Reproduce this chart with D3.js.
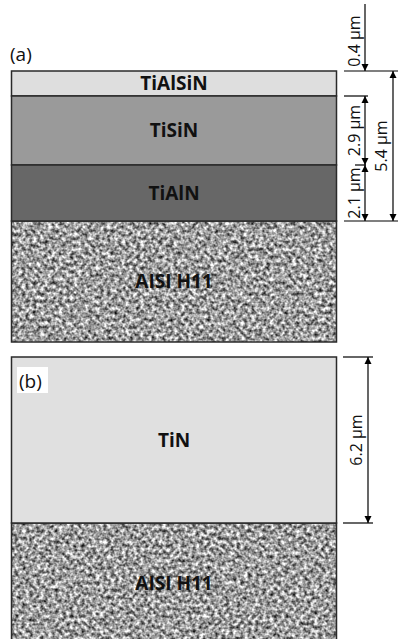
<!DOCTYPE html>
<html>
<head>
<meta charset="utf-8">
<script src="https://cdn.jsdelivr.net/npm/d3@7"></script>
<style>
  html, body { margin: 0; padding: 0; background: #fff; }
  svg { display: block; }
  .layerlabel { font-family: "Open Sans", sans-serif; font-weight: 700; font-size: 19px; fill: #111; }
  .dimlabel { font-family: "Open Sans", sans-serif; font-size: 16px; fill: #111; }
  .panellabel { font-family: "Open Sans", sans-serif; font-size: 19px; fill: #111; }
</style>
</head>
<body>
<div id="chart"></div>
<script>
// coating stacks, top to bottom (thickness in um)
const layersA = ['TiAlSiN', 'TiSiN', 'TiAlN'];
const thickA = [0.4, 2.9, 2.1];
const totalA = 5.4;
const layersB = ['TiN'];
const thickB = [6.2];
const substrate = 'AISI H11';
const panelLabels = ['(a)', '(b)'];

const fills = { TiAlSiN: '#dedede', TiSiN: '#9a9a9a', TiAlN: '#676767', TiN: '#e0e0e0' };

const W = 399, H = 639;
const svg = d3.select('#chart').append('svg')
  .attr('width', W).attr('height', H);

const defs = svg.append('defs');

// grainy substrate texture
const f = defs.append('filter').attr('id', 'grain')
  .attr('x', 0).attr('y', 0).attr('width', 1).attr('height', 1)
  .attr('color-interpolation-filters', 'sRGB');
f.append('feTurbulence').attr('type', 'fractalNoise')
  .attr('baseFrequency', 0.27).attr('numOctaves', 2).attr('seed', 7).attr('result', 'n');
f.append('feColorMatrix').attr('in', 'n').attr('type', 'matrix')
  .attr('values', '1 0 0 0 0  1 0 0 0 0  1 0 0 0 0  0 0 0 0 1').attr('result', 'g');
const ct = f.append('feComponentTransfer').attr('in', 'g').attr('result', 'c');
['feFuncR', 'feFuncG', 'feFuncB'].forEach(k =>
  ct.append(k).attr('type', 'linear').attr('slope', 1.5).attr('intercept', -0.13));
f.append('feComposite').attr('in', 'c').attr('in2', 'SourceGraphic').attr('operator', 'in');

// arrow heads
['end', 'start'].forEach(k => {
  defs.append('marker').attr('id', 'arr-' + k)
    .attr('viewBox', '0 0 10 10').attr('refX', 10).attr('refY', 5)
    .attr('markerUnits', 'userSpaceOnUse')
    .attr('markerWidth', 7).attr('markerHeight', 11)
    .attr('orient', k === 'end' ? 'auto' : 'auto-start-reverse')
    .append('path').attr('d', 'M0,0 L10,5 L0,10 Z').attr('fill', '#000');
});

const x = d3.scaleLinear().domain([0, 1]).range([11.5, 336.5]);

// cumulative depths -> pixel rows (schematic, not to scale)
const cumA = [0, ...Array.from(d3.cumsum(thickA))];
const yA = d3.scaleLinear().domain(cumA).range([71, 96, 165, 221]);
const cumB = [0, ...Array.from(d3.cumsum(thickB))];
const yB = d3.scaleLinear().domain(cumB).range([357, 523]);

function drawStack(names, cum, y, subBottom) {
  const g = svg.append('g');
  const rows = names.map((n, i) => ({ name: n, y0: y(cum[i]), y1: y(cum[i + 1]) }));
  // substrate
  const sTop = y(cum[cum.length - 1]);
  g.append('rect')
    .attr('x', x(0)).attr('y', sTop).attr('width', x(1) - x(0)).attr('height', subBottom - sTop)
    .attr('fill', '#888').attr('filter', 'url(#grain)');
  g.append('rect')
    .attr('x', x(0)).attr('y', sTop).attr('width', x(1) - x(0)).attr('height', subBottom - sTop)
    .attr('fill', 'none').attr('stroke', '#2a2a2a').attr('stroke-width', 1.5);
  g.append('text').attr('class', 'layerlabel')
    .attr('x', (x(0) + x(1)) / 2).attr('y', (sTop + subBottom) / 2)
    .attr('text-anchor', 'middle').attr('dy', '0.36em').text(substrate);

  g.selectAll('rect.layer').data(rows).enter().append('rect')
    .attr('class', 'layer')
    .attr('x', x(0)).attr('y', d => d.y0)
    .attr('width', x(1) - x(0)).attr('height', d => d.y1 - d.y0)
    .attr('fill', d => fills[d.name])
    .attr('stroke', '#2a2a2a').attr('stroke-width', 1.5);
  g.selectAll('text.lbl').data(rows).enter().append('text')
    .attr('class', 'layerlabel')
    .attr('x', (x(0) + x(1)) / 2).attr('y', d => (d.y0 + d.y1) / 2)
    .attr('text-anchor', 'middle').attr('dy', '0.36em')
    .text(d => d.name);
  return g;
}

drawStack(layersA, cumA, yA, 342);
drawStack(layersB, cumB, yB, 644);

// panel labels
svg.append('text').attr('class', 'panellabel').attr('x', 10).attr('y', 61).text(panelLabels[0]);
svg.append('rect').attr('x', 17).attr('y', 367).attr('width', 31).attr('height', 26).attr('fill', '#fff');
svg.append('text').attr('class', 'panellabel').attr('x', 19).attr('y', 388).text(panelLabels[1]);

// dimension helpers
const dim = svg.append('g').attr('stroke', '#000').attr('stroke-width', 1.2);
function hline(yy, x0, x1) {
  dim.append('line').attr('x1', x0).attr('x2', x1).attr('y1', yy).attr('y2', yy);
}
function arrow(xx, y0, y1, both) {
  const l = dim.append('line').attr('x1', xx).attr('x2', xx).attr('y1', y0).attr('y2', y1)
    .attr('marker-end', 'url(#arr-end)');
  if (both) l.attr('marker-start', 'url(#arr-start)');
}
function dimText(xx, yy, v) {
  svg.append('text').attr('class', 'dimlabel')
    .attr('transform', `translate(${xx},${yy}) rotate(-90)`)
    .attr('text-anchor', 'middle').text(`${v} \u00b5m`);
}

// panel (a) dimensions
hline(yA(0), 344, 398);
hline(yA(cumA[1]), 344, 368);
hline(yA(cumA[2]), 355, 366);
hline(yA(totalA), 344, 398);
arrow(365, 4, yA(0), false);
arrow(365, yA(cumA[1]), yA(cumA[2]), true);
arrow(365, yA(cumA[2]), yA(cumA[3]), true);
arrow(393, yA(0), yA(totalA), true);
thickA.forEach((t, i) => {
  const mid = i === 0 ? 41 : (yA(cumA[i]) + yA(cumA[i + 1])) / 2;
  dimText(360, mid, t.toFixed(1));
});
dimText(387, (yA(0) + yA(totalA)) / 2, totalA.toFixed(1));

// panel (b) dimension
hline(yB(0), 343, 373);
hline(yB(cumB[1]), 343, 373);
arrow(368, yB(0), yB(cumB[1]), true);
dimText(362, (yB(0) + yB(cumB[1])) / 2, thickB[0].toFixed(1));
</script>
</body>
</html>
